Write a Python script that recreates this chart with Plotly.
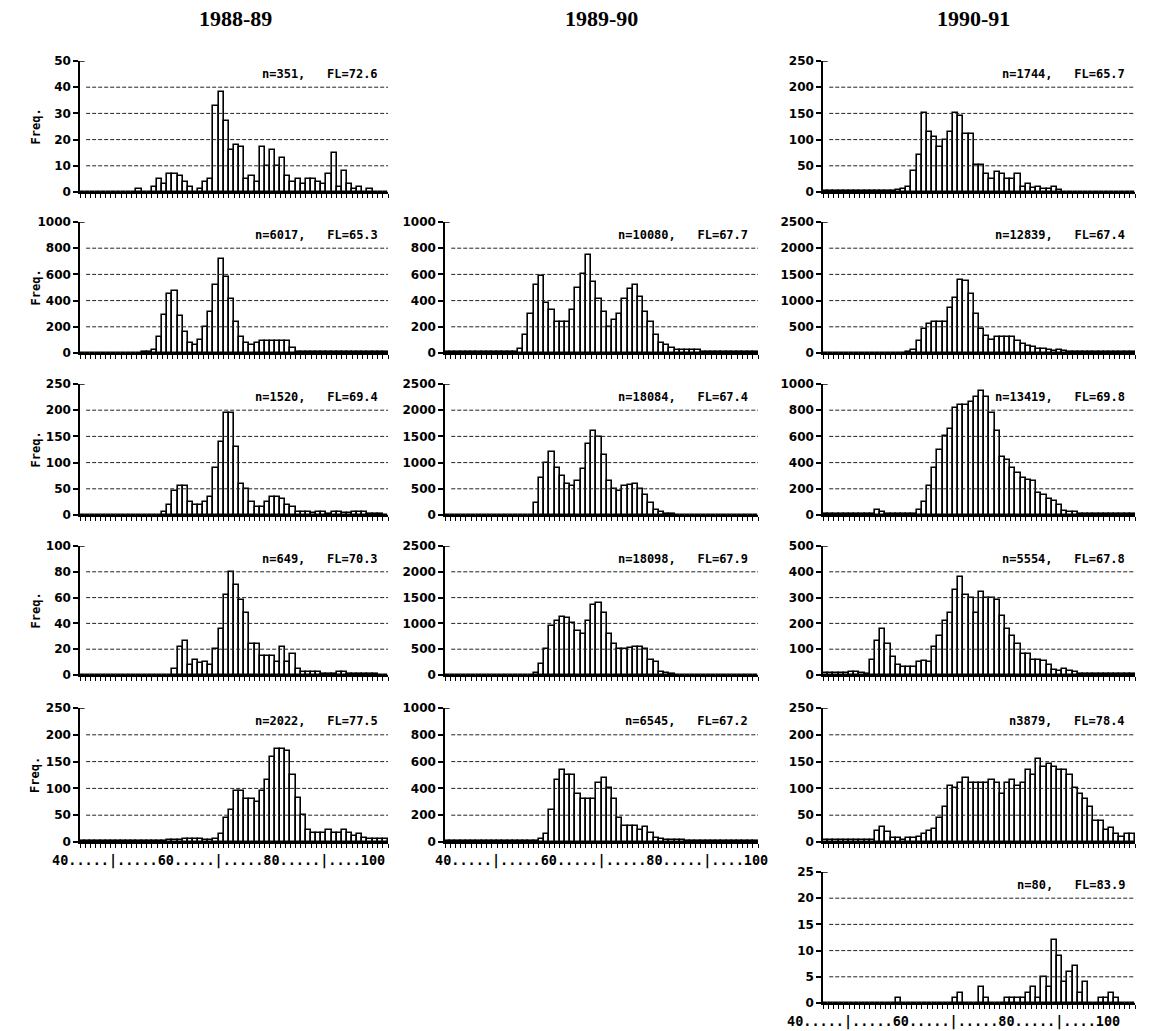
import plotly.graph_objects as go

# ---------------- data: frequency per 1-cm fork-length bin (40..99) ----------------
bins = list(range(40, 100))

fl_1988_r1 = [0,0,0,0,0,0,0,0,0,0,
              0,1,0,0,2,5,3,7,7,6,
              4,2,0,1,4,5,33,38,27,16,
              18,17,5,6,4,17,10,16,10,13,
              6,4,5,3,5,5,4,3,7,15,
              2,8,3,1,2,0,1,0,0,0]
fl_1988_r2 = [0,0,0,0,0,0,0,0,0,0,
              0,0,5,10,25,120,290,450,470,280,
              160,80,60,100,200,310,520,720,580,410,
              240,120,80,60,80,90,95,95,95,95,
              90,35,10,10,8,8,8,8,8,8,
              8,8,5,5,5,5,5,5,5,5]
fl_1988_r3 = [0,0,0,0,0,0,0,0,0,0,
              0,0,0,0,0,0,5,20,45,55,
              55,25,20,20,25,35,90,140,195,195,
              130,60,50,25,15,15,25,35,35,30,
              20,15,5,5,5,3,5,5,2,5,
              5,3,3,5,5,5,2,2,2,0]
fl_1988_r4 = [0,0,0,0,0,0,0,0,0,0,
              0,0,0,0,0,0,0,0,5,22,
              26,8,12,9,10,8,20,36,62,80,
              70,58,48,24,24,15,15,15,10,22,
              10,16,5,2,2,2,2,1,1,1,
              2,2,1,1,1,1,1,1,0,0]
fl_1988_r5 = [1,1,1,1,1,1,1,1,1,1,
              1,1,1,1,1,2,2,3,3,4,
              6,6,6,6,3,3,5,15,45,60,
              95,95,80,80,75,95,115,158,173,173,
              170,125,82,50,22,17,17,17,22,17,
              17,22,17,12,15,7,5,5,5,5]

fl_1989_r2 = [5,5,5,5,5,5,5,5,5,5,
              5,5,10,10,30,140,300,520,590,380,
              330,240,240,240,330,500,600,750,540,410,
              310,200,250,300,410,490,520,430,310,240,
              140,80,60,35,20,20,20,20,20,5,
              5,5,5,5,5,5,5,5,5,5]
fl_1989_r3 = [0,0,0,0,0,0,0,0,0,0,
              0,0,0,0,0,0,0,220,700,1000,
              1200,900,750,600,550,650,880,1350,1600,1480,
              1150,650,500,460,550,580,600,500,380,220,
              100,50,20,10,5,5,5,5,5,5,
              5,5,5,5,5,5,5,5,5,5]
fl_1989_r4 = [0,0,0,0,0,0,0,0,0,0,
              0,0,0,0,0,0,0,30,220,500,
              950,1050,1130,1100,1000,850,800,1050,1350,1400,
              1200,800,600,500,500,530,540,540,500,300,
              250,50,30,20,5,5,5,5,5,5,
              5,5,5,5,5,5,5,5,5,5]
fl_1989_r5 = [8,8,8,8,8,8,8,8,8,8,
              8,8,8,8,8,8,8,8,20,60,
              240,460,540,500,500,360,320,320,320,440,
              480,400,320,180,120,120,120,90,110,70,
              30,20,15,15,15,15,5,5,5,5,
              5,5,5,5,5,5,5,5,5,5]

fl_1990_r1 = [1,1,1,1,1,1,1,1,1,1,
              1,1,1,1,3,5,10,40,70,150,
              115,105,85,100,115,150,145,110,110,52,
              52,35,25,38,35,25,25,35,10,15,
              8,10,5,5,10,3,0,0,0,0,
              0,0,0,0,0,0,0,0,0,0]
fl_1990_r2 = [0,0,0,0,0,0,0,0,0,0,
              0,0,0,0,0,0,20,50,230,450,
              550,600,600,600,850,1050,1400,1380,1120,750,
              450,330,250,300,300,300,300,230,180,130,
              120,80,80,60,30,50,30,10,10,10,
              10,10,10,10,10,10,10,10,10,10]
fl_1990_r3 = [5,5,5,5,5,5,5,5,5,5,
              40,20,5,5,5,5,5,10,40,100,
              220,360,500,600,660,820,840,840,860,900,
              950,900,780,640,440,420,360,320,280,270,
              260,170,150,120,110,80,30,25,25,10,
              5,5,5,5,5,5,5,5,5,5]
fl_1990_r4 = [8,8,8,8,8,12,12,8,5,60,
              130,180,120,70,40,30,30,30,50,55,
              50,110,150,210,240,330,380,310,300,240,
              320,300,300,290,230,180,150,120,80,80,
              60,60,55,40,20,15,25,15,10,5,
              5,5,5,5,5,5,5,5,5,5]
fl_1990_r5 = [3,3,3,3,3,3,3,3,3,3,
              20,28,18,8,8,3,8,8,10,15,
              20,25,45,65,105,100,110,120,110,110,
              110,110,115,110,90,110,115,105,110,135,
              125,155,140,145,140,135,135,125,100,90,
              80,65,40,40,22,27,15,10,15,15]
fl_1990_r6 = [0,0,0,0,0,0,0,0,0,0,
              0,0,0,0,1,0,0,0,0,0,
              0,0,0,0,0,1,2,0,0,0,
              3,1,0,0,0,1,1,1,1,2,
              3,1,5,3,12,9,4,6,7,2,
              4,0,0,1,1,2,1,0,0,0]

season_titles = ["1988-89", "1989-90", "1990-91"]
x_axis_text = "40.....|.....60.....|.....80.....|....100"

# (column, row, values, y max, y step, sample label)
panels = [
    (1, 1, fl_1988_r1, 50, 10, "n=351,   FL=72.6"),
    (1, 2, fl_1988_r2, 1000, 200, "n=6017,   FL=65.3"),
    (1, 3, fl_1988_r3, 250, 50, "n=1520,   FL=69.4"),
    (1, 4, fl_1988_r4, 100, 20, "n=649,   FL=70.3"),
    (1, 5, fl_1988_r5, 250, 50, "n=2022,   FL=77.5"),
    (2, 2, fl_1989_r2, 1000, 200, "n=10080,   FL=67.7"),
    (2, 3, fl_1989_r3, 2500, 500, "n=18084,   FL=67.4"),
    (2, 4, fl_1989_r4, 2500, 500, "n=18098,   FL=67.9"),
    (2, 5, fl_1989_r5, 1000, 200, "n=6545,   FL=67.2"),
    (3, 1, fl_1990_r1, 250, 50, "n=1744,   FL=65.7"),
    (3, 2, fl_1990_r2, 2500, 500, "n=12839,   FL=67.4"),
    (3, 3, fl_1990_r3, 1000, 200, "n=13419,   FL=69.8"),
    (3, 4, fl_1990_r4, 500, 100, "n=5554,   FL=67.8"),
    (3, 5, fl_1990_r5, 250, 50, "n3879,   FL=78.4"),
    (3, 6, fl_1990_r6, 25, 5, "n=80,   FL=83.9"),
]

# ---------------- layout geometry (pixels) ----------------
W, H = 1152, 1031
col_px = {1: (80, 388), 2: (445, 758), 3: (823, 1135)}
row_px = {1: (61, 192), 2: (222, 353), 3: (384, 515), 4: (546, 675), 5: (708, 842), 6: (872, 1003)}
title_x = {1: 235, 2: 601, 3: 973}
xlabel_left = {1: 50, 2: 433, 3: 785}

MONO = "DejaVu Sans Mono"
SANS = "DejaVu Sans"
SERIF = "Liberation Serif"

fig = go.Figure()
layout = dict(width=W, height=H,
              margin=dict(l=0, r=0, t=0, b=0, pad=0, autoexpand=False),
              autosize=False,
              paper_bgcolor="white", plot_bgcolor="white",
              showlegend=False, bargap=0)
shapes = []
annotations = []

def px_x(x):
    return x / W

def px_y(y):
    return 1 - y / H

last_row = {}
for c, r, _, _, _, _ in panels:
    last_row[c] = max(last_row.get(c, 0), r)

for i, (c, r, vals, ymax, ystep, label) in enumerate(panels, start=1):
    xa = "x" if i == 1 else f"x{i}"
    ya = "y" if i == 1 else f"y{i}"
    x0, x1 = col_px[c]
    top, bot = row_px[r]
    fig.add_trace(go.Bar(
        x=[b + 0.5 for b in bins], y=vals, width=1,
        marker=dict(color="white", line=dict(color="black", width=1.6)),
        xaxis=xa, yaxis=ya, hoverinfo="skip"))
    yticks = list(range(0, ymax + 1, ystep))
    layout["xaxis" if i == 1 else f"xaxis{i}"] = dict(
        domain=[px_x(x0), px_x(x1)], anchor=ya, range=[40, 100],
        showline=True, linecolor="black", linewidth=1.5,
        ticks="outside", tickmode="linear", tick0=40, dtick=1,
        ticklen=4, tickwidth=1, tickcolor="black",
        showticklabels=False, showgrid=False, zeroline=False, fixedrange=True)
    layout["yaxis" if i == 1 else f"yaxis{i}"] = dict(
        domain=[px_y(bot), px_y(top)], anchor=xa, range=[0, ymax],
        showline=True, linecolor="black", linewidth=1.5,
        ticks="outside", ticklen=5, tickwidth=2, tickcolor="black",
        tickmode="array", tickvals=yticks, ticktext=[str(v) for v in yticks],
        tickfont=dict(family=SANS, size=12, color="black", weight="bold"),
        showgrid=False, zeroline=False, fixedrange=True, automargin=False)
    for v in yticks[1:-1]:
        shapes.append(dict(type="line", xref=f"{xa} domain", yref=ya,
                           x0=0.02, x1=1.0, y0=v, y1=v,
                           line=dict(color="#222", width=1, dash="4px,2px")))
    # small corner at the top of the y axis
    shapes.append(dict(type="line", xref=f"{xa} domain", yref=ya,
                       x0=0, x1=0.015, y0=ymax, y1=ymax,
                       line=dict(color="black", width=1.5)))
    annotations.append(dict(
        x=px_x(x1 - 8), y=px_y(top + 13), xref="paper", yref="paper",
        xanchor="right", yanchor="middle", showarrow=False,
        text=label.replace(" ", "\u00a0"),
        font=dict(family=MONO, size=12, color="black", weight="bold")))
    if c == 1:
        annotations.append(dict(
            x=px_x(35), y=px_y((top + bot) / 2), xref="paper", yref="paper",
            xanchor="center", yanchor="middle", showarrow=False, textangle=-90,
            text="Freq.", font=dict(family=MONO, size=12, color="black", weight="bold")))
    if r == last_row[c]:
        annotations.append(dict(
            x=px_x(xlabel_left[c]), y=px_y(bot + 18), xref="paper", yref="paper",
            xanchor="left", yanchor="middle", showarrow=False,
            text=x_axis_text,
            font=dict(family=MONO, size=13.5, color="black", weight="bold")))

for c, t in enumerate(season_titles, start=1):
    annotations.append(dict(
        x=px_x(title_x[c]), y=px_y(18), xref="paper", yref="paper",
        xanchor="center", yanchor="middle", showarrow=False,
        text=t,
        font=dict(family=SERIF, size=22, color="black", weight="bold")))

layout["shapes"] = shapes
layout["annotations"] = annotations
fig.update_layout(**layout)
fig.write_html("out.html", config={"displayModeBar": False},
               post_script="document.body.style.margin='0';document.body.style.overflow='hidden';")
